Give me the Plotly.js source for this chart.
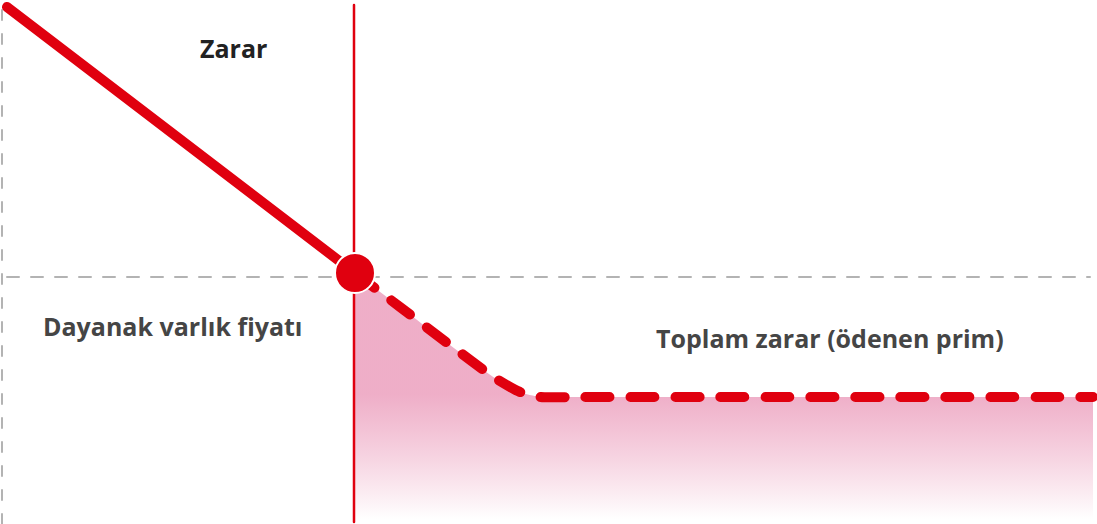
<!DOCTYPE html>
<html>
<head>
<meta charset="utf-8">
<script src="https://cdn.plot.ly/plotly-3.0.1.min.js"></script>
<style>html,body{margin:0;padding:0;background:#fff;}#chart{width:1097px;height:524px;}
#chart .js-line{stroke-linecap:round;stroke-linejoin:round;}</style>
</head>
<body>
<div id="chart"></div>
<script>
// Payoff (loss) diagram values, in chart units (x: price axis, y: payoff axis)
const lossX = [7, 355];
const lossY = [517, 251];
const premiumX = [355, 400, 450, 495, 520, 540, 580, 1093];
const premiumY = [251, 217, 179, 146, 132, 127, 127, 127];
const strikeX = 354;
const breakevenY = 247;
const labels = ["Zarar", "Dayanak varlık fiyatı", "Toplam zarar (ödenen prim)"];
const labelX = [233, 173, 830];
const labelY = [476, 198, 186];

const red = '#e0000f';
const traces = [
  {x: premiumX, y: premiumY, mode: 'lines', fill: 'tozeroy', line: {width: 0, shape: 'spline', smoothing: 0.6},
   fillgradient: {type: 'vertical', start: 5, stop: 130, colorscale: [[0, 'rgba(255,255,255,1)'], [1, 'rgba(236,160,190,0.85)']]},
   hoverinfo: 'skip', showlegend: false},
  {x: [2, 2], y: [0, 524], mode: 'lines', line: {color: '#b3b3b3', width: 2, dash: '10px,14px'}, showlegend: false},
  {x: [7, 1090], y: [breakevenY, breakevenY], mode: 'lines', line: {color: '#b3b3b3', width: 2, dash: '12px,12px'}, showlegend: false},
  {x: [strikeX, strikeX], y: [2, 519], mode: 'lines', line: {color: red, width: 2.5}, showlegend: false},
  {x: lossX, y: lossY, mode: 'lines', line: {color: red, width: 10}, showlegend: false},
  {x: premiumX, y: premiumY, mode: 'lines', line: {color: red, width: 10, dash: '24px,21px', shape: 'spline', smoothing: 0.6}, showlegend: false},
  {x: [strikeX + 1], y: [lossY[1]], mode: 'markers', marker: {color: red, size: 40, line: {color: '#fff', width: 2}}, showlegend: false}
];

const annotations = labels.map((t, i) => ({
  x: labelX[i], y: labelY[i], text: '<b>' + t + '</b>', showarrow: false,
  font: {family: 'Open Sans, sans-serif', size: 25, color: i === 0 ? '#222' : '#454545'},
  xanchor: 'center', yanchor: 'middle'
}));

const layout = {
  width: 1097, height: 524,
  margin: {l: 0, r: 0, t: 0, b: 0},
  paper_bgcolor: '#fff', plot_bgcolor: '#fff',
  xaxis: {range: [0, 1097], visible: false, fixedrange: true},
  yaxis: {range: [0, 524], visible: false, fixedrange: true},
  annotations: annotations,
  showlegend: false
};
Plotly.newPlot('chart', traces, layout, {displayModeBar: false, staticPlot: true});
</script>
</body>
</html>
